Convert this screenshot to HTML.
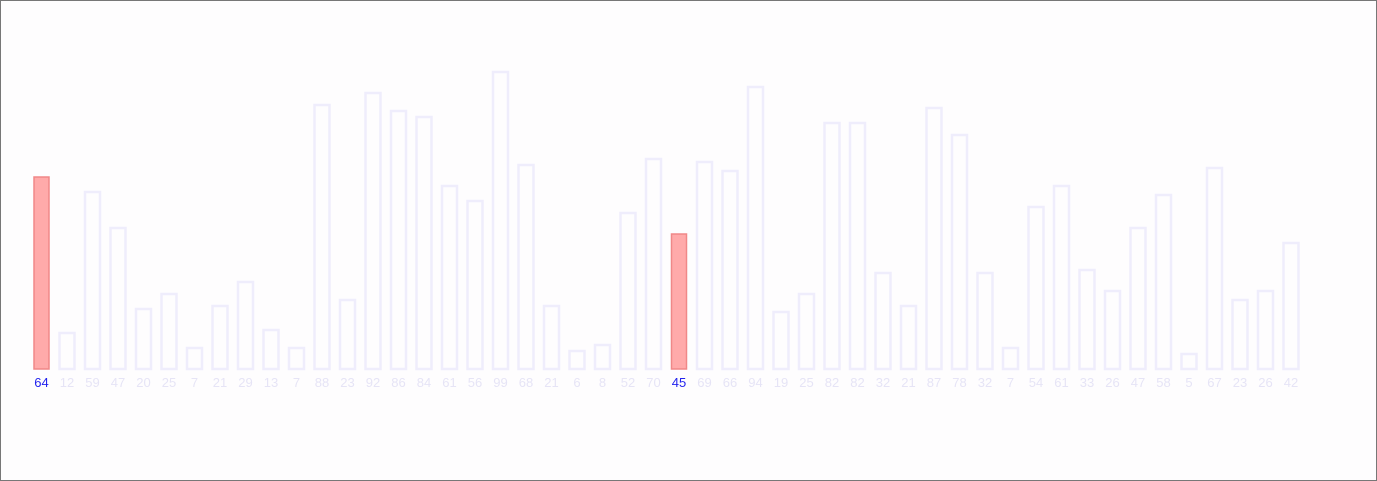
<!DOCTYPE html>
<html><head><meta charset="utf-8"><style>
html,body{margin:0;padding:0;background:#fefdfe;}
#wrap{width:1375px;height:479px;border:1px solid #777;position:relative;overflow:hidden;}
svg{position:absolute;left:0;top:0;}
text{font-family:"Liberation Sans",sans-serif;font-size:13px;}
</style></head><body>
<div id="wrap">
<svg id="chart" width="1377" height="481"></svg>
</div>
<script>
const values=[64,12,59,47,20,25,7,21,29,13,7,88,23,92,86,84,61,56,99,68,21,6,8,52,70,45,69,66,94,19,25,82,82,32,21,87,78,32,7,54,61,33,26,47,58,5,67,23,26,42];
const highlighted=[0,25];
const baseY=368, unit=3, x0=32, pitch=25.5, bw=16;
function xPos(i){return x0+i*pitch;}
function yPos(v){return baseY-v*unit;}
const svg=document.getElementById('chart');
const NS='http://www.w3.org/2000/svg';
values.forEach((v,i)=>{
  const hi=highlighted.includes(i);
  const r=document.createElementNS(NS,'rect');
  r.setAttribute('x',xPos(i)+1);r.setAttribute('y',yPos(v));
  r.setAttribute('width',bw-1);r.setAttribute('height',v*unit);
  r.setAttribute('fill',hi?'#ffaaaa':'none');
  r.setAttribute('stroke',hi?'#f08888':'#efedfc');
  r.setAttribute('stroke-width',hi?1.5:2.5);
  
  
  svg.appendChild(r);
  const t=document.createElementNS(NS,'text');
  t.setAttribute('x',xPos(i)+bw/2+0.5);t.setAttribute('y',386);
  t.setAttribute('text-anchor','middle');
  t.setAttribute('fill',hi?'#2222ee':'#e6e4f6');
  t.textContent=v;
  
  
  svg.appendChild(t);
});
</script>
</body></html>
